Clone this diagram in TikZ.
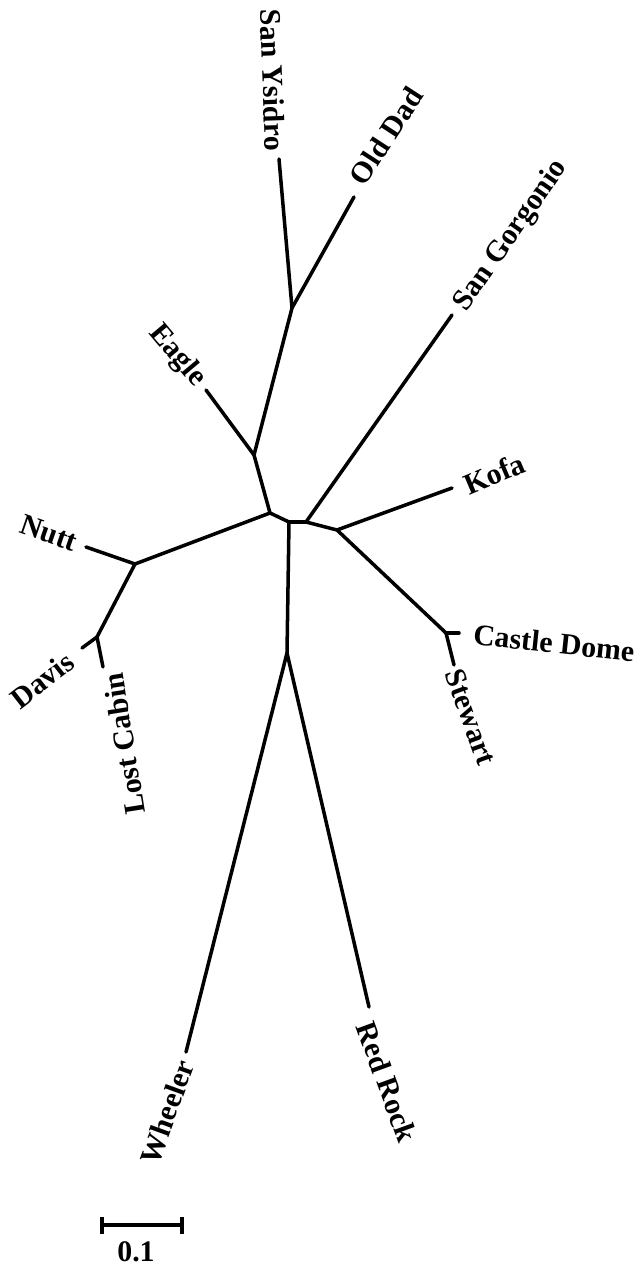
\documentclass[tikz,border=0pt]{standalone}
\usepackage{fontspec}
\setmainfont{Liberation Serif}
\usepackage{tikz}
\usetikzlibrary{positioning, calc}

\begin{document}
\begin{tikzpicture}[
    x=0.02cm, y=-0.02cm,
    every node/.style={font=\fontsize{17}{19}\selectfont\bfseries, inner sep=0pt},
    branch/.style={draw=black, line width=2pt, line cap=round, line join=round},
    taxon/.style={text=black},
    scalebar/.style={draw=black, line width=2pt}
  ]
    \useasboundingbox (0,0) rectangle (640,1266);

    % inner junctions
    \coordinate (jRoot) at (270,513);
    \coordinate (jEagle) at (254,455);
    \coordinate (jYsidro) at (292,308);
    \coordinate (jNutt) at (135,564);
    \coordinate (jDavis) at (97,637);
    \coordinate (jStem) at (289,522);
    \coordinate (jWheeler) at (287,653);
    \coordinate (jGorgonio) at (306,522);
    \coordinate (jKofa) at (337,530);
    \coordinate (jCastle) at (446,633);

    % branch tips
    \coordinate (tYsidro) at (279,159);
    \coordinate (tOldDad) at (354,197);
    \coordinate (tEagle) at (206,390);
    \coordinate (tNutt) at (86,547);
    \coordinate (tDavis) at (82,648);
    \coordinate (tLostCabin) at (103,667);
    \coordinate (tWheeler) at (186,1052);
    \coordinate (tRedRock) at (369,1007);
    \coordinate (tGorgonio) at (452,315);
    \coordinate (tKofa) at (452,488);
    \coordinate (tCastle) at (459,633);
    \coordinate (tStewart) at (454,665);

    % tree
    \draw[branch] (jRoot) -- (jEagle);
    \draw[branch] (jEagle) -- (jYsidro);
    \draw[branch] (jYsidro) -- (tYsidro);
    \draw[branch] (jYsidro) -- (tOldDad);
    \draw[branch] (jEagle) -- (tEagle);
    \draw[branch] (jRoot) -- (jNutt);
    \draw[branch] (jNutt) -- (tNutt);
    \draw[branch] (jNutt) -- (jDavis);
    \draw[branch] (jDavis) -- (tDavis);
    \draw[branch] (jDavis) -- (tLostCabin);
    \draw[branch] (jRoot) -- (jStem);
    \draw[branch] (jStem) -- (jWheeler);
    \draw[branch] (jWheeler) -- (tWheeler);
    \draw[branch] (jWheeler) -- (tRedRock);
    \draw[branch] (jStem) -- (jGorgonio);
    \draw[branch] (jGorgonio) -- (tGorgonio);
    \draw[branch] (jGorgonio) -- (jKofa);
    \draw[branch] (jKofa) -- (tKofa);
    \draw[branch] (jKofa) -- (jCastle);
    \draw[branch] (jCastle) -- (tCastle);
    \draw[branch] (jCastle) -- (tStewart);

    % taxon labels
    \node[taxon, rotate=-88] (lYsidro) at (273,80) {San Ysidro};
    \node[taxon, rotate=57] (lOldDad) at (386,136) {Old Dad};
    \node[taxon, rotate=55] (lGorgonio) at (511,236) {San Gorgonio};
    \node[taxon, rotate=-50] (lEagle) at (177,356) {Eagle};
    \node[taxon, rotate=-19] (lNutt) at (49,533) {Nutt};
    \node[taxon, rotate=38] (lDavis) at (42,680) {Davis};
    \node[taxon, rotate=99] (lLostCabin) at (124,744) {Lost Cabin};
    \node[taxon, rotate=23] (lKofa) at (494,474) {Kofa};
    \node[taxon, rotate=-6] (lCastle) at (554,643) {Castle Dome};
    \node[taxon, rotate=-70] (lStewart) at (471,717) {Stewart};
    \node[taxon, rotate=70] (lWheeler) at (167,1112) {Wheeler};
    \node[taxon, rotate=-70] (lRedRock) at (387,1082) {Red Rock};

    % scale
    \coordinate (sLeft) at (102,1225);
    \coordinate (sRight) at (182,1225);
    \draw[scalebar] (sLeft) -- (sRight);
    \draw[scalebar] ($(sLeft)+(0,-8)$) -- ($(sLeft)+(0,9)$);
    \draw[scalebar] ($(sRight)+(0,-8)$) -- ($(sRight)+(0,9)$);
    \node (lScale) at (136,1252) {0.1};
  \end{tikzpicture}
\end{document}
